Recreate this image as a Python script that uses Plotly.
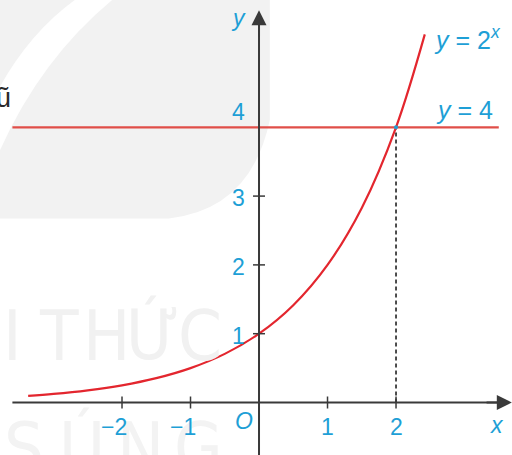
import plotly.graph_objects as go

# ---- data ----
curve_x = [-3.37, -3.0, -2.5, -2.0, -1.5, -1.0, -0.5, 0.0, 0.5, 1.0, 1.5, 2.0, 2.42]
curve_y = [0.097, 0.125, 0.177, 0.25, 0.354, 0.5, 0.707, 1.0, 1.414, 2.0, 2.828, 4.0, 5.35]
hline_x = [-3.6, 3.5]
hline_y = [4, 4]
drop_x = [2, 2]
drop_y = [0, 4]
xtick_vals = [-2, -1, 1, 2]
xtick_text = ["−2", "−1", "1", "2"]
ytick_vals = [1, 2, 3, 4]
ytick_text = ["1", "2", "3", "4"]
curve_label = "<i>y</i> = 2<sup><i>x</i></sup>"
line_label = "<i>y</i> = 4"
wm_row1 = ["I", "T", "H", "Ứ", "C"]
wm_row2 = ["S", "Ú", "N", "G"]

W, H = 512, 455
XR = [-3.781, 3.693]
YR = [-0.763, 5.850]

BLUE = "#1e9fd6"
AXC = "#3a3a3a"
FONT = "Liberation Sans, Arial, sans-serif"
WMFONT = "Liberation Sans Narrow, DejaVu Sans Condensed, sans-serif"

fig = go.Figure()

shapes = []
# faint watermark background (decoration)
shapes.append(dict(type="path", xref="paper", yref="paper",
                   path="M 0,1 L 0.527,1 L 0.527,0.736 Q 0.49,0.54 0.33,0.52 L 0,0.52 Z",
                   fillcolor="#f2f2f2", line=dict(width=0), layer="below"))
shapes.append(dict(type="path", xref="paper", yref="paper",
                   path="M 0.146,1 L 0.219,1 Q 0.08,0.87 0,0.67 L 0,0.81 Q 0.06,0.93 0.146,1 Z",
                   fillcolor="#ffffff", line=dict(width=0), layer="below"))

# axis lines
shapes.append(dict(type="line", xref="x", yref="y", x0=-3.6, x1=3.6, y0=0, y1=0,
                   line=dict(color=AXC, width=2)))
shapes.append(dict(type="line", xref="x", yref="y", x0=0, x1=0, y0=YR[0], y1=5.6,
                   line=dict(color=AXC, width=2)))
# tick marks
for v in xtick_vals:
    shapes.append(dict(type="line", xref="x", yref="y", ysizemode="pixel", yanchor=0,
                       x0=v, x1=v, y0=-6, y1=6, line=dict(color=AXC, width=1.5)))
for v in ytick_vals[:-1]:
    shapes.append(dict(type="line", xref="x", yref="y", xsizemode="pixel", xanchor=0,
                       x0=-6, x1=6, y0=v, y1=v, line=dict(color=AXC, width=1.5)))

fig.add_trace(go.Scatter(x=hline_x, y=hline_y, mode="lines",
                         line=dict(color="#e04e48", width=2.2), hoverinfo="skip"))
fig.add_trace(go.Scatter(x=drop_x, y=drop_y, mode="lines",
                         line=dict(color="#222222", width=1.6, dash="4px,3px"), hoverinfo="skip"))
fig.add_trace(go.Scatter(x=curve_x, y=curve_y, mode="lines", line_shape="spline",
                         line=dict(color="#e3262e", width=2.2), hoverinfo="skip"))
fig.add_trace(go.Scatter(x=[drop_x[1]], y=[drop_y[1]], mode="markers",
                         marker=dict(color=BLUE, size=4), hoverinfo="skip"))

ann = []
# faint watermark letters (drawn first, beneath the rest)
for i, ch in enumerate(wm_row1):
    ann.append(dict(x=(12 + 47 * i) / W, y=1 - 336 / H, xref="paper", yref="paper", text=ch,
                    showarrow=False, xanchor="center", yanchor="middle",
                    font=dict(color="#f1f1f1", size=70, family=WMFONT)))
for i, ch in enumerate(wm_row2):
    ann.append(dict(x=(24 + 58 * i) / W, y=1 - 448 / H, xref="paper", yref="paper", text=ch,
                    showarrow=False, xanchor="center", yanchor="middle",
                    font=dict(color="#f3f3f3", size=70, family=WMFONT)))
# arrows
ann.append(dict(x=3.69, y=0, ax=3.3, ay=0, xref="x", yref="y", axref="x", ayref="y",
                showarrow=True, arrowhead=2, arrowsize=1.5, arrowwidth=2, arrowcolor=AXC, text=""))
ann.append(dict(x=0, y=5.7, ax=0, ay=5.3, xref="x", yref="y", axref="x", ayref="y",
                showarrow=True, arrowhead=2, arrowsize=1.5, arrowwidth=2, arrowcolor=AXC, text=""))
# tick labels
for v, t in zip(xtick_vals, xtick_text):
    neg = t.startswith("−")
    ann.append(dict(x=v, y=0, xref="x", yref="y", text=t, showarrow=False,
                    xanchor="right" if neg else "center", xshift=7 if neg else 0,
                    yanchor="middle", yshift=-24,
                    font=dict(color=BLUE, size=23, family=FONT)))
for v, t in zip(ytick_vals, ytick_text):
    ann.append(dict(x=0, y=v, xref="x", yref="y", text=t, showarrow=False,
                    xanchor="center", xshift=-21, yanchor="middle",
                    yshift=15 if v == max(ytick_vals) else -2,
                    font=dict(color=BLUE, size=23, family=FONT)))
ann.append(dict(x=0, y=0, xref="x", yref="y", text="<i>O</i>", showarrow=False,
                xanchor="center", xshift=-15, yanchor="middle", yshift=-18,
                font=dict(color=BLUE, size=23, family=FONT)))
ann.append(dict(x=XR[1], y=0, xref="x", yref="y", text="<i>x</i>", showarrow=False,
                xanchor="center", xshift=-15, yanchor="middle", yshift=-22,
                font=dict(color=BLUE, size=23, family=FONT)))
ann.append(dict(x=0, y=5.7, xref="x", yref="y", text="<i>y</i>", showarrow=False,
                xanchor="center", xshift=-21, yanchor="middle", yshift=-8,
                font=dict(color=BLUE, size=23, family=FONT)))
ann.append(dict(x=curve_x[-1], y=curve_y[-1], xref="x", yref="y", text=curve_label,
                showarrow=False, xanchor="left", xshift=7, yanchor="middle", yshift=-4,
                font=dict(color=BLUE, size=25, family=FONT)))
ann.append(dict(x=hline_x[1], y=hline_y[1], xref="x", yref="y", text=line_label,
                showarrow=False, xanchor="right", xshift=-4, yanchor="middle", yshift=17,
                font=dict(color=BLUE, size=25, family=FONT)))
# fragment text at left edge
ann.append(dict(x=3 / W, y=1 - 98 / H, xref="paper", yref="paper", text="ũ", showarrow=False,
                xanchor="center", yanchor="middle",
                font=dict(color="#2a2a2a", size=27, family=FONT)))

fig.update_layout(
    width=W, height=H, margin=dict(l=0, r=0, t=0, b=0),
    paper_bgcolor="white", plot_bgcolor="rgba(0,0,0,0)",
    showlegend=False, shapes=shapes, annotations=ann,
    xaxis=dict(range=XR, visible=False, fixedrange=True),
    yaxis=dict(range=YR, visible=False, fixedrange=True),
)
fig.write_html("out.html", config={"displayModeBar": False},
               post_script="document.body.style.margin='0';document.body.style.overflow='hidden';")
